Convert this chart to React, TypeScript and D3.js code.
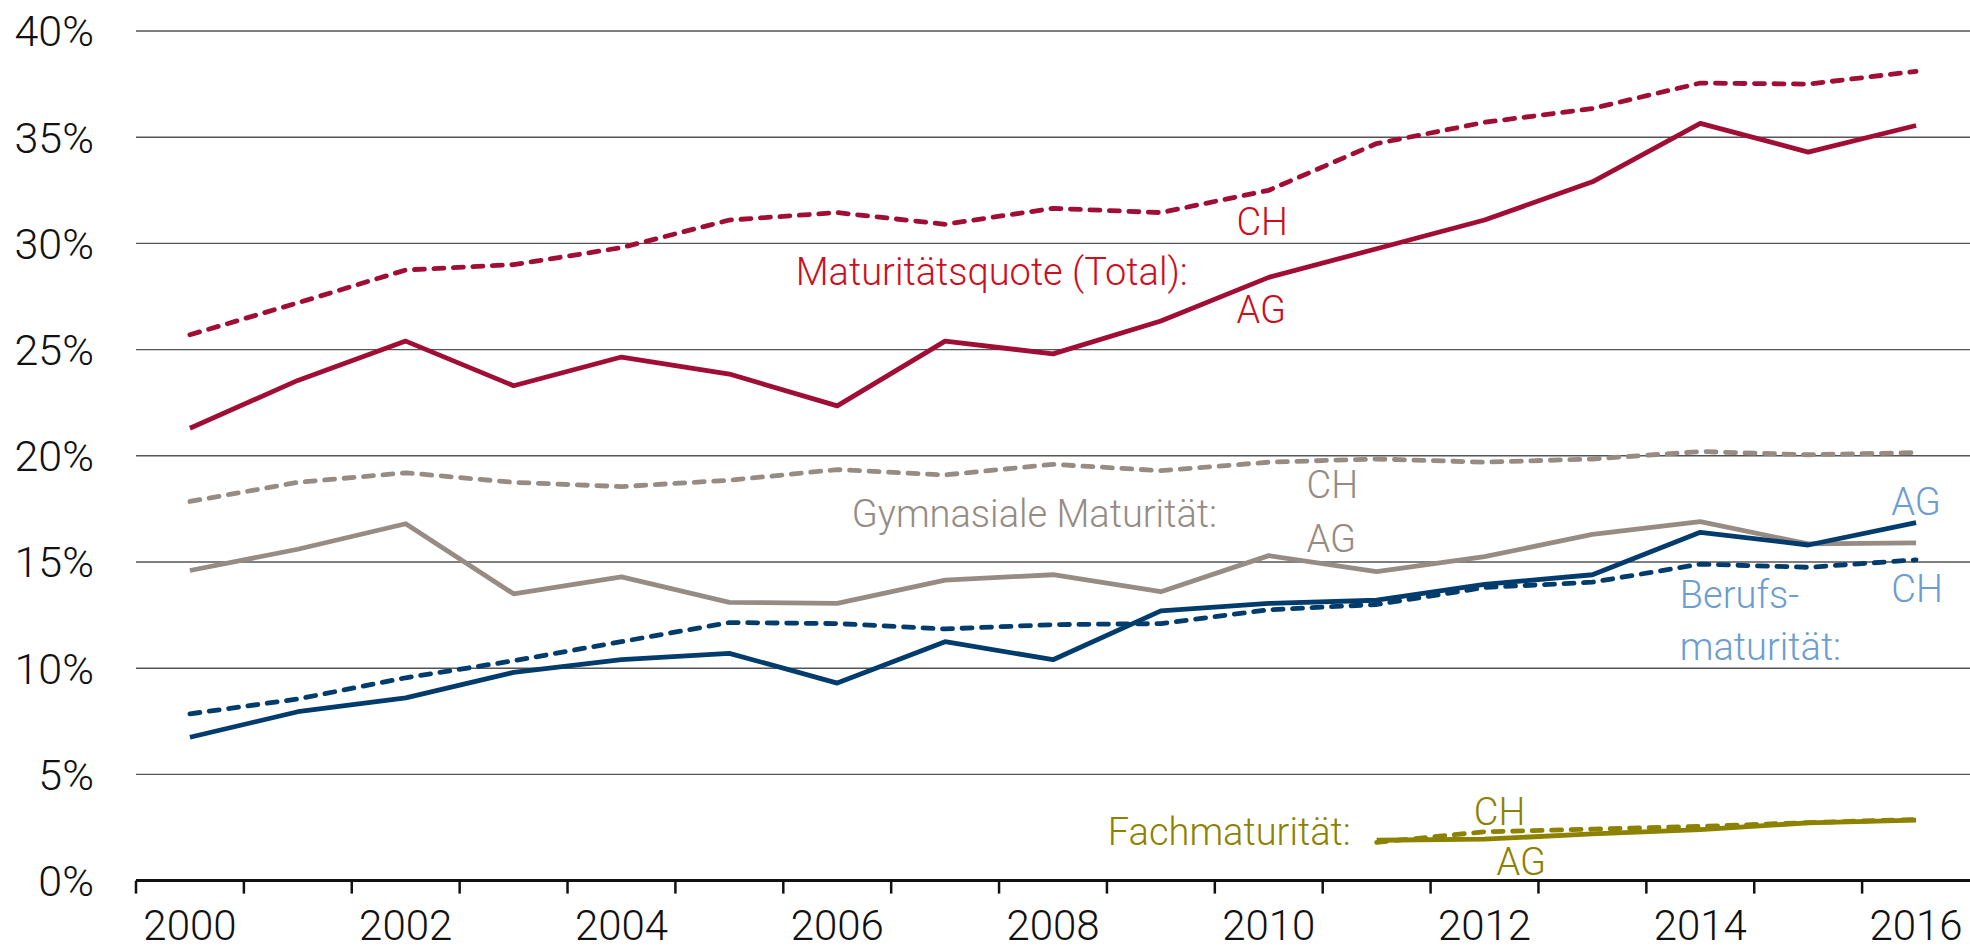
import * as d3 from "d3";
import { useEffect, useRef } from "react";

// years on the x axis
const years = d3.range(2000, 2017).map(String);
const yTicks = [0, 5, 10, 15, 20, 25, 30, 35, 40];

// Maturitätsquote (Total)
const totalAG = [21.3, 23.55, 25.4, 23.3, 24.65, 23.85, 22.35, 25.4, 24.8, 26.35, 28.4, 29.75, 31.1, 32.9, 35.65, 34.3, 35.55];
const totalCH = [25.7, 27.2, 28.75, 29.0, 29.8, 31.1, 31.45, 30.9, 31.65, 31.45, 32.5, 34.7, 35.7, 36.35, 37.55, 37.5, 38.1];

// Gymnasiale Maturität
const gymAG = [14.6, 15.6, 16.8, 13.5, 14.3, 13.1, 13.05, 14.15, 14.4, 13.6, 15.3, 14.55, 15.25, 16.3, 16.9, 15.85, 15.9];
const gymCH = [17.85, 18.75, 19.2, 18.75, 18.55, 18.85, 19.35, 19.1, 19.6, 19.3, 19.7, 19.85, 19.7, 19.85, 20.2, 20.05, 20.15];

// Berufsmaturität
const berufAG = [6.75, 7.95, 8.6, 9.8, 10.4, 10.7, 9.3, 11.25, 10.4, 12.7, 13.05, 13.2, 13.95, 14.4, 16.4, 15.8, 16.85];
const berufCH = [7.85, 8.55, 9.55, 10.35, 11.25, 12.15, 12.1, 11.85, 12.05, 12.1, 12.75, 13.0, 13.8, 14.05, 14.9, 14.75, 15.1];

// Fachmaturität (from 2011)
const fachYears = ["2011", "2012", "2013", "2014", "2015", "2016"];
const fachAG = [1.9, 1.95, 2.2, 2.4, 2.72, 2.85];
const fachCH = [1.8, 2.3, 2.42, 2.55, 2.73, 2.88];

const RED = "#a10e35", RED_TXT = "#cc0f1f";
const GRAY = "#978c84", GRAY_TXT = "#958b83";
const BLUE = "#023c6d", BLUE_TXT = "#6b9dd2";
const OLIVE = "#8c8200";

export default function App() {
  const svgRef = useRef<SVGSVGElement>(null);
  const width = 1970;
  const height = 951;

  useEffect(() => {
    const svg = d3.select(svgRef.current);
    svg.selectAll("*").remove();

    const left = 136;
    const x = d3.scaleBand().domain(years).range([left, width]).padding(0);
    const bw = x.bandwidth();
    const cx = (yr: string) => (x(yr) as number) + bw / 2;
    // fractional year position, used for text placement
    const fx = (yr: number) => left + (yr - 2000 + 0.5) * bw;
    const y = d3.scaleLinear().domain([0, 40]).range([880.6, 31]);

    const font = "Roboto, 'Liberation Sans', Arial, sans-serif";

    // grid lines
    svg.append("g")
      .selectAll("line")
      .data(yTicks.filter(t => t > 0))
      .enter().append("line")
      .attr("x1", left).attr("x2", width)
      .attr("y1", d => y(d)).attr("y2", d => y(d))
      .attr("stroke", "#555").attr("stroke-width", 1.4);

    // y labels
    svg.append("g")
      .selectAll("text")
      .data(yTicks)
      .enter().append("text")
      .attr("x", 94).attr("y", d => y(d))
      .attr("dy", "0.36em")
      .attr("text-anchor", "end")
      .attr("font-family", font).attr("font-weight", 300)
      .attr("font-size", 43).attr("fill", "#111")
      .text(d => d + "%");

    // x axis
    const axis = svg.append("g").attr("transform", `translate(0,${y(0)})`);
    axis.append("line")
      .attr("x1", left).attr("x2", width)
      .attr("stroke", "#111").attr("stroke-width", 3);
    axis.selectAll(".tick")
      .data(years)
      .enter().append("line")
      .attr("x1", d => x(d) as number).attr("x2", d => x(d) as number)
      .attr("y1", 0).attr("y2", 13)
      .attr("stroke", "#111").attr("stroke-width", 2.5);
    axis.selectAll(".lbl")
      .data(years.filter((d, i) => i % 2 === 0))
      .enter().append("text")
      .attr("x", d => cx(d)).attr("y", 59)
      .attr("text-anchor", "middle")
      .attr("font-family", font).attr("font-weight", 300)
      .attr("font-size", 42).attr("fill", "#111")
      .text(d => d);

    const line = d3.line<[string, number]>().x(d => cx(d[0])).y(d => y(d[1]));
    const series = [
      { yrs: years, vals: gymCH, color: GRAY, dash: true },
      { yrs: years, vals: gymAG, color: GRAY, dash: false },
      { yrs: years, vals: totalCH, color: RED, dash: true },
      { yrs: years, vals: totalAG, color: RED, dash: false },
      { yrs: years, vals: berufCH, color: BLUE, dash: true },
      { yrs: years, vals: berufAG, color: BLUE, dash: false },
      { yrs: fachYears, vals: fachCH, color: OLIVE, dash: true },
      { yrs: fachYears, vals: fachAG, color: OLIVE, dash: false },
    ];
    series.forEach(s => {
      svg.append("path")
        .datum(s.yrs.map((yr, i) => [yr, s.vals[i]] as [string, number]))
        .attr("d", line)
        .attr("fill", "none")
        .attr("stroke", s.color)
        .attr("stroke-width", 4.8)
        .attr("stroke-linejoin", "round")
        .attr("stroke-linecap", s.dash ? "round" : "butt")
        .attr("stroke-dasharray", s.dash ? "10 9.5" : null);
    });

    // annotations (year position, value, text, colour, anchor)
    const notes: [number, number, string, string, string][] = [
      [2009.7, 30.4, "CH", RED_TXT, "start"],
      [2009.7, 26.25, "AG", RED_TXT, "start"],
      [2009.25, 28.04, "Maturitätsquote (Total):", RED_TXT, "end"],
      [2010.35, 18.0, "CH", GRAY_TXT, "start"],
      [2010.35, 15.47, "AG", GRAY_TXT, "start"],
      [2009.52, 16.65, "Gymnasiale Maturität:", GRAY_TXT, "end"],
      [2015.77, 17.2, "AG", BLUE_TXT, "start"],
      [2015.77, 13.12, "CH", BLUE_TXT, "start"],
      [2013.81, 12.83, "Berufs-", BLUE_TXT, "start"],
      [2013.81, 10.39, "maturität:", BLUE_TXT, "start"],
      [2010.76, 1.68, "Fachmaturität:", OLIVE, "end"],
      [2011.9, 2.63, "CH", OLIVE, "start"],
      [2012.11, 0.27, "AG", OLIVE, "start"],
    ];
    svg.append("g")
      .selectAll("text")
      .data(notes)
      .enter().append("text")
      .attr("x", d => fx(d[0])).attr("y", d => y(d[1]))
      .attr("text-anchor", d => d[4])
      .attr("fill", d => d[3])
      .attr("font-family", font).attr("font-weight", 300)
      .attr("font-size", 38)
      .text(d => d[2]);
  }, []);

  return (
    <svg
      ref={svgRef}
      width={width}
      height={height}
      style={{ position: "absolute", left: 0, top: 0, background: "#fff" }}
    />
  );
}
